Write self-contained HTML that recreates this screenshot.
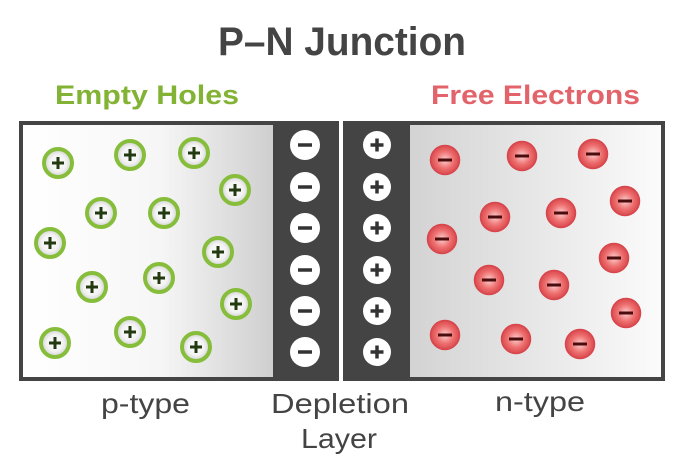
<!DOCTYPE html>
<html><head><meta charset="utf-8"><style>html,body{margin:0;padding:0;background:#fff}svg{display:block}</style></head>
<body>
<svg width="684" height="464" viewBox="0 0 684 464" xmlns="http://www.w3.org/2000/svg" font-family="Liberation Sans, sans-serif">
<defs>
<linearGradient id="lg" x1="0" x2="1"><stop offset="0" stop-color="#fff"/><stop offset="0.55" stop-color="#f6f6f6"/><stop offset="1" stop-color="#cfcfcf"/></linearGradient>
<linearGradient id="rg" x1="0" x2="1"><stop offset="0" stop-color="#d3d3d3"/><stop offset="1" stop-color="#fbfbfb"/></linearGradient>
<radialGradient id="gh"><stop offset="0" stop-color="#fff"/><stop offset="0.6" stop-color="#f2f2f2"/><stop offset="1" stop-color="#cfcfcf"/></radialGradient>
<radialGradient id="re"><stop offset="0" stop-color="#fbd0d0"/><stop offset="0.6" stop-color="#ee6f6f"/><stop offset="1" stop-color="#d9494e"/></radialGradient>
<g id="h"><circle r="14" fill="url(#gh)" stroke="#86bd3a" stroke-width="4"/><path d="M-6 0H6M0 -6V6" stroke="#233a10" stroke-width="3"/></g>
<g id="e"><circle r="14.5" fill="url(#re)" stroke="#d8464c" stroke-width="1.5"/><path d="M-7 0H7" stroke="#4a0c0c" stroke-width="3"/></g>
<g id="m"><circle r="15" fill="#fff"/><path d="M-7 0H7" stroke="#333" stroke-width="3.5"/></g>
<g id="p"><circle r="14" fill="#fff"/><path d="M-6.5 0H6.5M0 -6.5V6.5" stroke="#333" stroke-width="3.5"/></g>
</defs>
<text x="342" y="55" text-anchor="middle" font-size="40" font-weight="bold" fill="#444" textLength="248" lengthAdjust="spacingAndGlyphs">P–N Junction</text>
<text x="55" y="104" font-size="27" font-weight="bold" fill="#82b334" textLength="184" lengthAdjust="spacingAndGlyphs">Empty Holes</text>
<text x="431" y="104" font-size="27" font-weight="bold" fill="#e3636b" textLength="209" lengthAdjust="spacingAndGlyphs">Free Electrons</text>
<rect x="19" y="121" width="320" height="260" fill="#444"/>
<rect x="23" y="125" width="250" height="252" fill="url(#lg)"/>
<rect x="343" y="121" width="322" height="260" fill="#444"/>
<rect x="410" y="125" width="251" height="252" fill="url(#rg)"/>
<g>
<use href="#h" x="58" y="163"/><use href="#h" x="130" y="155"/><use href="#h" x="194" y="153"/><use href="#h" x="235" y="190"/>
<use href="#h" x="101" y="213"/><use href="#h" x="164" y="213"/><use href="#h" x="50" y="243"/><use href="#h" x="218" y="252"/>
<use href="#h" x="92" y="287"/><use href="#h" x="159" y="278"/><use href="#h" x="236" y="304"/><use href="#h" x="55" y="343"/>
<use href="#h" x="130" y="332"/><use href="#h" x="196" y="347"/>
</g>
<g>
<use href="#m" x="305" y="145"/><use href="#m" x="305" y="187"/><use href="#m" x="305" y="228"/><use href="#m" x="305" y="270"/><use href="#m" x="305" y="311"/><use href="#m" x="305" y="352"/>
<use href="#p" x="377" y="145"/><use href="#p" x="377" y="187"/><use href="#p" x="377" y="228"/><use href="#p" x="377" y="270"/><use href="#p" x="377" y="311"/><use href="#p" x="377" y="352"/>
</g>
<g>
<use href="#e" x="445" y="160"/><use href="#e" x="522" y="156"/><use href="#e" x="593" y="154"/><use href="#e" x="625" y="201"/>
<use href="#e" x="495" y="217"/><use href="#e" x="561" y="213"/><use href="#e" x="442" y="239"/><use href="#e" x="614" y="258"/>
<use href="#e" x="489" y="280"/><use href="#e" x="554" y="285"/><use href="#e" x="626" y="313"/><use href="#e" x="445" y="335"/>
<use href="#e" x="516" y="339"/><use href="#e" x="580" y="344"/>
</g>
<g font-size="28" fill="#444">
<text x="101" y="413" textLength="89" lengthAdjust="spacingAndGlyphs">p-type</text>
<text x="271" y="413" textLength="138" lengthAdjust="spacingAndGlyphs">Depletion</text>
<text x="301" y="448" textLength="76" lengthAdjust="spacingAndGlyphs">Layer</text>
<text x="495" y="411" textLength="90" lengthAdjust="spacingAndGlyphs">n-type</text>
</g>
</svg>
</body></html>
